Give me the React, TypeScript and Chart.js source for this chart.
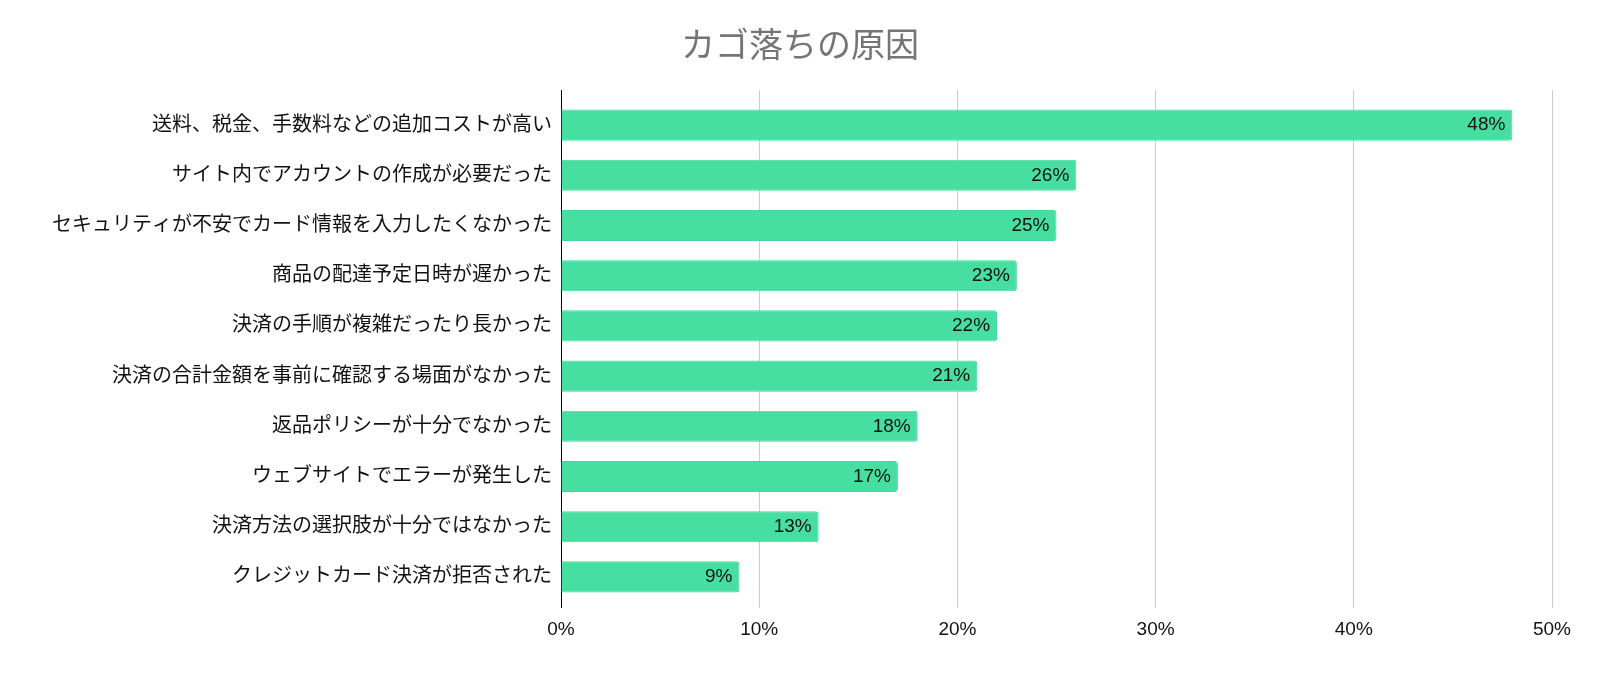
import React, { useEffect, useRef } from "react";
import { Chart, registerables } from "chart.js";

Chart.register(...registerables);

const title = "カゴ落ちの原因";
const categories = [
  "送料、税金、手数料などの追加コストが高い",
  "サイト内でアカウントの作成が必要だった",
  "セキュリティが不安でカード情報を入力したくなかった",
  "商品の配達予定日時が遅かった",
  "決済の手順が複雑だったり長かった",
  "決済の合計金額を事前に確認する場面がなかった",
  "返品ポリシーが十分でなかった",
  "ウェブサイトでエラーが発生した",
  "決済方法の選択肢が十分ではなかった",
  "クレジットカード決済が拒否された",
];
const values = [48, 26, 25, 23, 22, 21, 18, 17, 13, 9];
const xMin = 0;
const xMax = 50;
const xStep = 10;

const FONT = "'Liberation Sans', Arial, 'Noto Sans CJK JP', sans-serif";

const dataLabelPlugin = {
  id: "dataLabels",
  afterDatasetsDraw(chart: any) {
    const ctx = chart.ctx;
    const meta = chart.getDatasetMeta(0);
    ctx.save();
    ctx.font = `19px ${FONT}`;
    ctx.fillStyle = "#111111";
    ctx.textAlign = "right";
    ctx.textBaseline = "middle";
    meta.data.forEach((bar: any, i: number) => {
      const v = chart.data.datasets[0].data[i];
      ctx.fillText(`${v}%`, bar.x - 7, bar.y);
    });
    ctx.restore();
  },
};

export default function App() {
  const ref = useRef<HTMLCanvasElement | null>(null);
  useEffect(() => {
    if (!ref.current) return;
    const gridColor = (c: any) => (c.index === 0 ? "#000000" : "#cccccc");
    const chart = new Chart(ref.current, {
      type: "bar",
      data: {
        labels: categories,
        datasets: [
          {
            data: values,
            backgroundColor: "#47dea1",
            borderColor: "#3fd99b",
            borderWidth: 1,
            borderRadius: 3,
            barPercentage: 0.62,
            categoryPercentage: 1,
            yAxisID: "y",
          },
        ],
      },
      options: {
        indexAxis: "y",
        animation: false,
        responsive: true,
        maintainAspectRatio: false,
        layout: { padding: 0 },
        plugins: {
          legend: { display: false },
          tooltip: { enabled: false },
          title: {
            display: true,
            text: title,
            color: "#757575",
            font: { family: FONT, size: 34, weight: "normal" },
            padding: { top: 27, bottom: 0 },
          },
        },
        scales: {
          x: {
            type: "linear",
            position: "bottom",
            min: xMin,
            max: xMax,
            ticks: {
              stepSize: xStep,
              color: "#111111",
              font: { family: FONT, size: 19 },
              padding: 10,
              callback: (v: any) => `${v}%`,
            },
            grid: {
              color: gridColor,
              lineWidth: 1,
              drawTicks: true,
              tickLength: 6,
            },
            border: { display: false },
            afterFit: (s: any) => {
              s.height = 72;
            },
          },
          xTop: {
            type: "linear",
            position: "top",
            axis: "x",
            min: xMin,
            max: xMax,
            ticks: { stepSize: xStep, display: false },
            grid: {
              color: gridColor,
              lineWidth: 1,
              drawOnChartArea: false,
              drawTicks: true,
              tickLength: 10,
            },
            border: { display: false },
            afterFit: (s: any) => {
              s.height = 32.2;
            },
          },
          y: {
            type: "category",
            position: "left",
            ticks: {
              color: "#111111",
              font: { family: FONT, size: 20 },
              padding: 9,
            },
            grid: { display: false, drawTicks: false },
            border: { display: false },
            afterFit: (s: any) => {
              s.width = 561;
            },
          },
          yRight: {
            type: "linear",
            position: "right",
            axis: "y",
            ticks: { display: false },
            grid: { display: false, drawTicks: false },
            border: { display: false },
            afterFit: (s: any) => {
              s.width = 48;
            },
          },
        },
      },
      plugins: [dataLabelPlugin],
    } as any);
    return () => chart.destroy();
  }, []);
  return (
    <div
      style={{
        position: "fixed",
        left: 0,
        top: 0,
        width: 1600,
        height: 674,
        background: "#ffffff",
      }}
    >
      <canvas ref={ref} />
    </div>
  );
}
